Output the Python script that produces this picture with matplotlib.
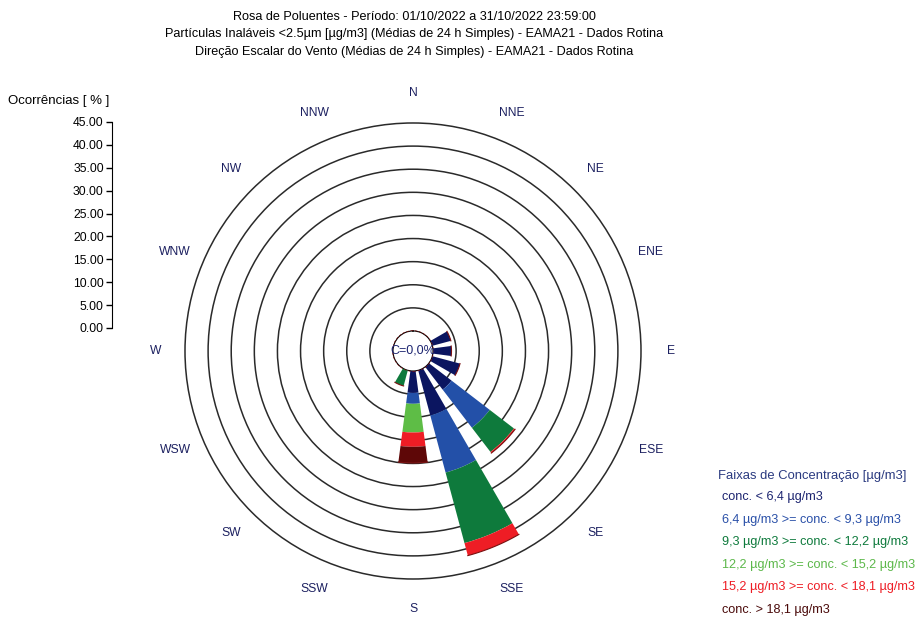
import numpy as np
import matplotlib
matplotlib.use("Agg")
import matplotlib.pyplot as plt
from matplotlib.patches import Circle

plt.rcParams['font.family'] = ['Liberation Sans', 'DejaVu Sans']

directions = ['N', 'NNE', 'NE', 'ENE', 'E', 'ESE', 'SE', 'SSE',
              'S', 'SSW', 'SW', 'WSW', 'W', 'WNW', 'NW', 'NNW']

class_labels = ['conc. < 6,4 µg/m3',
                '6,4 µg/m3 >= conc. < 9,3 µg/m3',
                '9,3 µg/m3 >= conc. < 12,2 µg/m3',
                '12,2 µg/m3 >= conc. < 15,2 µg/m3',
                '15,2 µg/m3 >= conc. < 18,1 µg/m3',
                'conc. > 18,1 µg/m3']
bar_colors = ['#0b1560', '#2350a8', '#0e7a3c', '#5ebd46', '#ee1d25', '#5e0707']
text_colors = ['#1c2470', '#2a50a8', '#0e7a3c', '#5cb84a', '#ee1d25', '#4a0a0a']

# occurrences [%] per direction, one list per concentration class
c1 = [0, 0, 0, 4.15, 4.0, 6.2, 6.2, 10.1, 4.75, 0, 0, 0, 0, 0, 0, 0]
c2 = [0, 0, 0, 0, 0, 0, 10.4, 12.8, 2.35, 0, 0, 0, 0, 0, 0, 0]
c3 = [0, 0, 0, 0, 0, 0, 6.6, 15.8, 0, 3.5, 0, 0, 0, 0, 0, 0]
c4 = [0, 0, 0, 0, 0, 0, 0, 0, 6.2, 0, 0, 0, 0, 0, 0, 0]
c5 = [0, 0, 0, 0, 0, 0, 0.3, 2.8, 3.1, 0, 0, 0, 0, 0, 0, 0]
c6 = [0, 0, 0, 0, 0, 0, 0, 0, 3.5, 0, 0, 0, 0, 0, 0, 0]
classes = [c1, c2, c3, c4, c5, c6]

calm = 0.0
rings = [5, 10, 15, 20, 25, 30, 35, 40, 45]

fig = plt.figure(figsize=(9.19, 6.18), dpi=100)

# rose
ax = fig.add_axes([0.2013, 0.0631, 0.4962, 0.7379], projection='polar')
ax.set_theta_zero_location('N')
ax.set_theta_direction(-1)
ax.set_ylim(0, 45)
ax.set_rorigin(-4.33)
ax.set_xticks([])
ax.set_yticks([])
ax.grid(False)
ax.spines['polar'].set_visible(False)

r0 = ax.get_rorigin()
rmax = ax.get_rmax()


def ring_radius(r):
    # radius in axes fraction for a value on the radial scale
    return 0.5 * (r - r0) / (rmax - r0)


# rings
for r in rings:
    ax.add_patch(Circle((0.5, 0.5), ring_radius(r), transform=ax.transAxes,
                        fill=False, edgecolor='#2a2a2a', lw=1.1, zorder=1, clip_on=False))

theta = np.deg2rad(np.arange(16) * 22.5)
width = np.deg2rad(15)
bottom = np.zeros(16)
for vals, col in zip(classes, bar_colors):
    vals = np.array(vals)
    ax.bar(theta, vals, width=width, bottom=bottom, color=col,
           edgecolor='none', align='center', zorder=3)
    bottom += vals

# thin dark outline on the outer edge of each bar
for t, top in zip(theta, bottom):
    if top > 0:
        arc = np.linspace(t - width / 2, t + width / 2, 20)
        ax.plot(arc, np.full_like(arc, top), color='#7a1010', lw=0.8, zorder=4)

# calm circle
ax.add_patch(Circle((0.5, 0.5), ring_radius(0), transform=ax.transAxes, fill=False,
                    edgecolor='#7a1010', lw=1, ls=(0, (2, 1)), zorder=5))
ax.text(0, r0, f'C={calm:.1f}%'.replace('.', ','), ha='center', va='center',
        fontsize=9, color='#1c2470', zorder=6)

for t, d in zip(theta, directions):
    ax.text(t, 51.4, d, ha='center', va='center', fontsize=8.7,
            color='#1c2060', clip_on=False)

# radial scale on the left
axl = fig.add_axes([0.1219, 0.4693, 0.001, 0.3333])
axl.set_ylim(0, 45)
axl.set_yticks(rings[::-1] + [0])
axl.set_yticklabels([f'{v:.2f}' for v in rings[::-1] + [0]], fontsize=8.7)
axl.set_xticks([])
for s in ['top', 'right', 'bottom']:
    axl.spines[s].set_visible(False)
axl.tick_params(axis='y', length=4, width=1, pad=2)
fig.text(59 / 919, 1 - 101 / 618, 'Ocorrências [ % ]', ha='center', va='center', fontsize=9.5)

# titles
titles = ['Rosa de Poluentes - Período: 01/10/2022 a 31/10/2022 23:59:00',
          'Partículas Inaláveis <2.5µm [µg/m3] (Médias de 24 h Simples) - EAMA21 - Dados Rotina',
          'Direção Escalar do Vento (Médias de 24 h Simples) - EAMA21 - Dados Rotina']
for i, t in enumerate(titles):
    fig.text(414 / 919, 1 - (17 + 17.5 * i) / 618, t, ha='center', va='center', fontsize=9.1)

# legend
fig.text(718 / 919, 1 - 476 / 618, 'Faixas de Concentração [µg/m3]', ha='left', va='center',
         fontsize=9.4, color='#2a3a80')
for i, (lab, col) in enumerate(zip(class_labels, text_colors)):
    fig.text(722 / 919, 1 - (497 + 22.6 * i) / 618, lab, ha='left', va='center',
             fontsize=9.1, color=col)

fig.savefig('out.png', dpi=100)
